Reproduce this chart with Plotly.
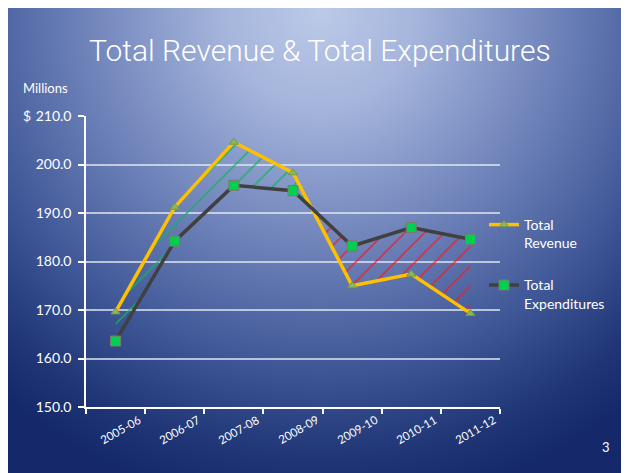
import base64
import plotly.graph_objects as go

# ---------------- data ----------------
years = ["2005-06", "2006-07", "2007-08", "2008-09", "2009-10", "2010-11", "2011-12"]
revenue = [169.6, 191.2, 204.6, 198.3, 175.0, 177.4, 169.3]
expenditures = [163.6, 184.2, 195.7, 194.6, 183.2, 187.0, 184.6]
y_ticks = [150, 160, 170, 180, 190, 200, 210]
title_text = "Total Revenue & Total Expenditures"
page_number = "3"

# ---------------- geometry ----------------
OFF = 8                     # page body margin offset
W, H = 629 - OFF, 473 - OFF
L, R, T, B = 86 - OFF, 129, 116 - OFF, 66
PW, PH = W - L - R, H - T - B


def px_x(x):                # screen x -> paper
    return (x - OFF - L) / PW


def px_y(y):                # screen y -> paper
    return (H - B - (y - OFF)) / PH


xs = list(range(len(years)))

# crossing between the two series
d = [r - e for r, e in zip(revenue, expenditures)]
i = next(k for k in range(len(d) - 1) if d[k] > 0 >= d[k + 1])
t = d[i] / (d[i] - d[i + 1])
xc = i + t
yc = revenue[i] + (revenue[i + 1] - revenue[i]) * t

fig = go.Figure()

gx = xs[: i + 1] + [xc] + xs[: i + 1][::-1]
gy = revenue[: i + 1] + [yc] + expenditures[: i + 1][::-1]
fig.add_trace(go.Scatter(
    x=gx, y=gy, mode="lines", fill="toself", line=dict(width=0),
    fillcolor="rgba(0,0,0,0)",
    fillpattern=dict(shape="/", fgcolor="#10b45a", bgcolor="rgba(0,0,0,0)",
                     fgopacity=1, size=14, solidity=0.09),
    showlegend=False, hoverinfo="skip"))

rx = [xc] + xs[i + 1:] + xs[i + 1:][::-1]
ry = [yc] + expenditures[i + 1:] + revenue[i + 1:][::-1]
fig.add_trace(go.Scatter(
    x=rx, y=ry, mode="lines", fill="toself", line=dict(width=0),
    fillcolor="rgba(0,0,0,0)",
    fillpattern=dict(shape="/", fgcolor="#f01c28", bgcolor="rgba(0,0,0,0)",
                     fgopacity=1, size=14, solidity=0.09),
    showlegend=False, hoverinfo="skip"))

fig.add_trace(go.Scatter(
    x=xs, y=revenue, mode="lines+markers", name="Total<br>Revenue",
    legendgroup="a",
    line=dict(color="#FFC000", width=3.5),
    marker=dict(symbol="triangle-up", size=8, color="#8DB85A",
                line=dict(color="#6f9a48", width=1))))

fig.add_trace(go.Scatter(
    x=xs, y=expenditures, mode="lines+markers", name="Total<br>Expenditures",
    legendgroup="b",
    line=dict(color="#404040", width=3.5),
    marker=dict(symbol="square", size=10, color="#00D050",
                line=dict(color="#7a7a6a", width=1))))

# ---------------- background ----------------
cx, cy = 320 - OFF, 10 - OFF
svg = f'''<svg xmlns="http://www.w3.org/2000/svg" width="{W}" height="{H}" viewBox="0 0 {W} {H}">
<defs>
<radialGradient id="g" gradientUnits="userSpaceOnUse" cx="{cx}" cy="{cy}" r="500"
 gradientTransform="translate({cx},{cy}) scale(1.0,1) translate({-cx},{-cy})">
<stop offset="0" stop-color="#BCCAE8"/>
<stop offset="0.2" stop-color="#A4B4DB"/>
<stop offset="0.45" stop-color="#7387BD"/>
<stop offset="0.7" stop-color="#425A99"/>
<stop offset="0.9" stop-color="#1F3576"/>
<stop offset="1" stop-color="#15296A"/>
</radialGradient>
</defs>
<rect x="0" y="0" width="{W}" height="{H}" fill="url(#g)"/>
</svg>'''
src = "data:image/svg+xml;base64," + base64.b64encode(svg.encode()).decode()

font_fam = "Lato, 'Open Sans', sans-serif"

annotations = [
    dict(text=title_text, x=px_x(320), y=px_y(51), xref="paper", yref="paper",
         showarrow=False, xanchor="center", yanchor="middle",
         font=dict(family="Roboto, sans-serif", weight=300,
                   size=30, color="white")),
    dict(text="Millions", x=px_x(21), y=px_y(88), xref="paper", yref="paper",
         showarrow=False, xanchor="left", yanchor="middle",
         font=dict(family=font_fam, size=13, color="white")),
    dict(text="$", x=px_x(21), y=px_y(115), xref="paper", yref="paper",
         showarrow=False, xanchor="left", yanchor="middle",
         font=dict(family=font_fam, size=14, color="white")),
    dict(text=page_number, x=px_x(606), y=px_y(447), xref="paper", yref="paper",
         showarrow=False, xanchor="center", yanchor="middle",
         font=dict(family=font_fam, size=13, color="white")),
]
for k, lab in enumerate(years):
    annotations.append(dict(
        text=lab, x=k, y=px_y(429), xref="x", yref="paper", xshift=5,
        showarrow=False, xanchor="center", yanchor="middle", textangle=-30,
        font=dict(family=font_fam, size=11.5, color="white")))

fig.update_layout(
    width=W, height=H,
    margin=dict(l=L, r=R, t=T, b=B, autoexpand=False),
    paper_bgcolor="#15296A",
    plot_bgcolor="rgba(0,0,0,0)",
    images=[dict(source=src, xref="paper", yref="paper",
                 x=-L / PW, y=1 + T / PH, sizex=W / PW, sizey=H / PH,
                 xanchor="left", yanchor="top", sizing="stretch", layer="below")],
    annotations=annotations,
    showlegend=True,
    legend=dict(x=px_x(484), y=px_y(209), xref="paper", yref="paper",
                xanchor="left", yanchor="top", bgcolor="rgba(0,0,0,0)",
                font=dict(family=font_fam, size=14, color="white"),
                valign="top", traceorder="grouped", tracegroupgap=21),
    xaxis=dict(range=[-0.5, len(years) - 0.5],
               tickvals=[k - 0.5 for k in range(len(years) + 1)],
               showticklabels=False, ticks="outside", ticklen=5,
               tickcolor="white", tickwidth=1.5,
               showline=True, linecolor="white", linewidth=1.5,
               showgrid=False, zeroline=False),
    yaxis=dict(range=[150, 210], tickvals=y_ticks,
               ticktext=[f"{v:.1f}" for v in y_ticks],
               ticks="outside", ticklen=6, tickcolor="white", tickwidth=1.5,
               ticklabelstandoff=4,
               showline=True, linecolor="white", linewidth=1.5,
               showgrid=True, gridcolor="rgba(225,230,240,0.75)", gridwidth=1.5,
               zeroline=False,
               tickfont=dict(family=font_fam, size=14, color="white")),
)

fig.write_html("out.html")
